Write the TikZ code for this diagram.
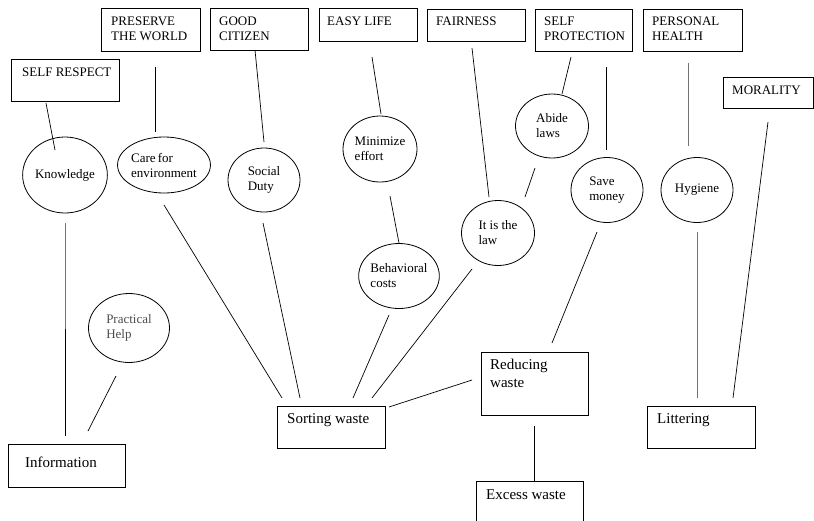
\documentclass[tikz,border=0pt]{standalone}
\usepackage{fontspec}
\setmainfont{Liberation Serif}
\usetikzlibrary{shapes.geometric}
\begin{document}
\begin{tikzpicture}[x=1pt,y=-1pt,
  box/.style={draw, line width=0.8pt, inner sep=0, anchor=north west},
  txt/.style={anchor=north west, inner sep=0, align=left, font=\fontsize{13}{15}\selectfont},
  btxt/.style={anchor=north west, inner sep=0, align=left, font=\fontsize{15}{18}\selectfont},
  circ/.style={draw, ellipse, line width=0.8pt, inner sep=0, align=left, font=\fontsize{13}{15}\selectfont},
  link/.style={line width=0.7pt},
  glink/.style={line width=0.7pt, black!55}]
\useasboundingbox (0,0) rectangle (814,520);
% top boxes
\node[box, minimum width=108pt, minimum height=42pt] (sr) at (11,59) {};
\node[txt] (srt) at (22,68) {SELF RESPECT};
\node[box, minimum width=99pt, minimum height=43pt] (pw) at (101,8) {};
\node[txt] (pwt) at (111,17) {PRESERVE\\THE WORLD};
\node[box, minimum width=98pt, minimum height=42pt] (gc) at (210,8) {};
\node[txt] (gct) at (219,17) {GOOD\\CITIZEN};
\node[box, minimum width=98pt, minimum height=33pt] (el) at (319,8) {};
\node[txt] (elt) at (327,17) {EASY LIFE};
\node[box, minimum width=98pt, minimum height=32pt] (fa) at (427,9) {};
\node[txt] (fat) at (436,17) {FAIRNESS};
\node[box, minimum width=97pt, minimum height=42pt] (sp) at (535,9) {};
\node[txt] (spt) at (544,17) {SELF\\PROTECTION};
\node[box, minimum width=99pt, minimum height=42pt] (ph) at (643,9) {};
\node[txt] (pht) at (652,17) {PERSONAL\\HEALTH};
\node[box, minimum width=90pt, minimum height=31pt] (mo) at (723,77) {};
\node[txt] (mot) at (732,86) {MORALITY};
% bottom boxes
\node[box, minimum width=117pt, minimum height=43pt] (info) at (8,444) {};
\node[btxt] (infot) at (25,457) {Information};
\node[box, minimum width=108pt, minimum height=42pt] (sw) at (277,406) {};
\node[btxt] (swt) at (287,413) {Sorting waste};
\node[box, minimum width=107pt, minimum height=63pt] (rw) at (481,352) {};
\node[btxt] (rwt) at (490,359) {Reducing\\waste};
\node[box, minimum width=108pt, minimum height=42pt] (lit) at (647,406) {};
\node[btxt] (litt) at (657,413) {Littering};
\node[box, minimum width=107pt, minimum height=44pt] (ex) at (476,481) {};
\node[btxt] (ext) at (486,489) {Excess waste};
% circles
\node[circ, minimum width=73pt, minimum height=76pt] (kn) at (65,175) {Knowledge};
\node[circ, minimum width=73pt, minimum height=56pt] (ce) at (164,165) {Care\,for\\environment};
\node[circ, minimum width=72pt, minimum height=64pt] (sd) at (264,180) {Social\\Duty};
\node[circ, minimum width=74pt, minimum height=66pt] (me) at (380,149) {Minimize\\effort};
\node[circ, minimum width=74pt, minimum height=65pt] (bc) at (399,276) {Behavioral\\costs};
\node[circ, minimum width=73pt, minimum height=65pt] (il) at (498,233) {It is the\\law};
\node[circ, minimum width=73pt, minimum height=64pt] (ab) at (552,126) {Abide\\laws};
\node[circ, minimum width=72pt, minimum height=65pt] (sm) at (607,190) {Save\\money};
\node[circ, minimum width=72pt, minimum height=65pt] (hy) at (697,190) {Hygiene};
\node[circ, minimum width=81pt, minimum height=69pt, text=black!70] (pr) at (129,328) {Practical\\Help};
% connector end points
\coordinate (a1) at (46,103);  \coordinate (a2) at (55,150);
\coordinate (b1) at (155,67);  \coordinate (b2) at (155,132);
\coordinate (c1) at (255,50);  \coordinate (c2) at (264,142);
\coordinate (d1) at (372,57);  \coordinate (d2) at (381,114);
\coordinate (e1) at (390,196); \coordinate (e2) at (399,243);
\coordinate (f1) at (65,223);  \coordinate (f3) at (65,329); \coordinate (f2) at (65,436);
\coordinate (g1) at (164,205); \coordinate (g2) at (282,398);
\coordinate (h1) at (263,223); \coordinate (h2) at (300,398);
\coordinate (i1) at (116,376); \coordinate (i2) at (88,431);
\coordinate (j1) at (389,315); \coordinate (j2) at (353,398);
\coordinate (k1) at (472,269); \coordinate (k2) at (372,398);
\coordinate (l1) at (472,380); \coordinate (l2) at (389,407);
\coordinate (m1) at (597,232); \coordinate (m2) at (552,343);
\coordinate (n1) at (534,426); \coordinate (n2) at (534,481);
\coordinate (o1) at (697,232); \coordinate (o2) at (697,398);
\coordinate (p1) at (768,122); \coordinate (p2) at (733,398);
\coordinate (q1) at (688,63);  \coordinate (q2) at (688,146);
\coordinate (r1) at (606,67);  \coordinate (r2) at (606,150);
\coordinate (s1) at (571,57);  \coordinate (s2) at (562,94);
\coordinate (t1) at (535,168); \coordinate (t2) at (525,197);
\coordinate (u1) at (472,48);  \coordinate (u2) at (489,197);
% connectors
\draw[link] (a1) -- (a2);
\draw[link] (b1) -- (b2);
\draw[link] (c1) -- (c2);
\draw[link] (d1) -- (d2);
\draw[link] (e1) -- (e2);
\draw[glink] (f1) -- (f3);
\draw[link] (f3) -- (f2);
\draw[link] (g1) -- (g2);
\draw[link] (h1) -- (h2);
\draw[link] (i1) -- (i2);
\draw[link] (j1) -- (j2);
\draw[link] (k1) -- (k2);
\draw[link] (l1) -- (l2);
\draw[link] (m1) -- (m2);
\draw[link] (n1) -- (n2);
\draw[glink] (o1) -- (o2);
\draw[link] (p1) -- (p2);
\draw[glink] (q1) -- (q2);
\draw[link] (r1) -- (r2);
\draw[link] (s1) -- (s2);
\draw[link] (t1) -- (t2);
\draw[link] (u1) -- (u2);
\end{tikzpicture}
\end{document}
